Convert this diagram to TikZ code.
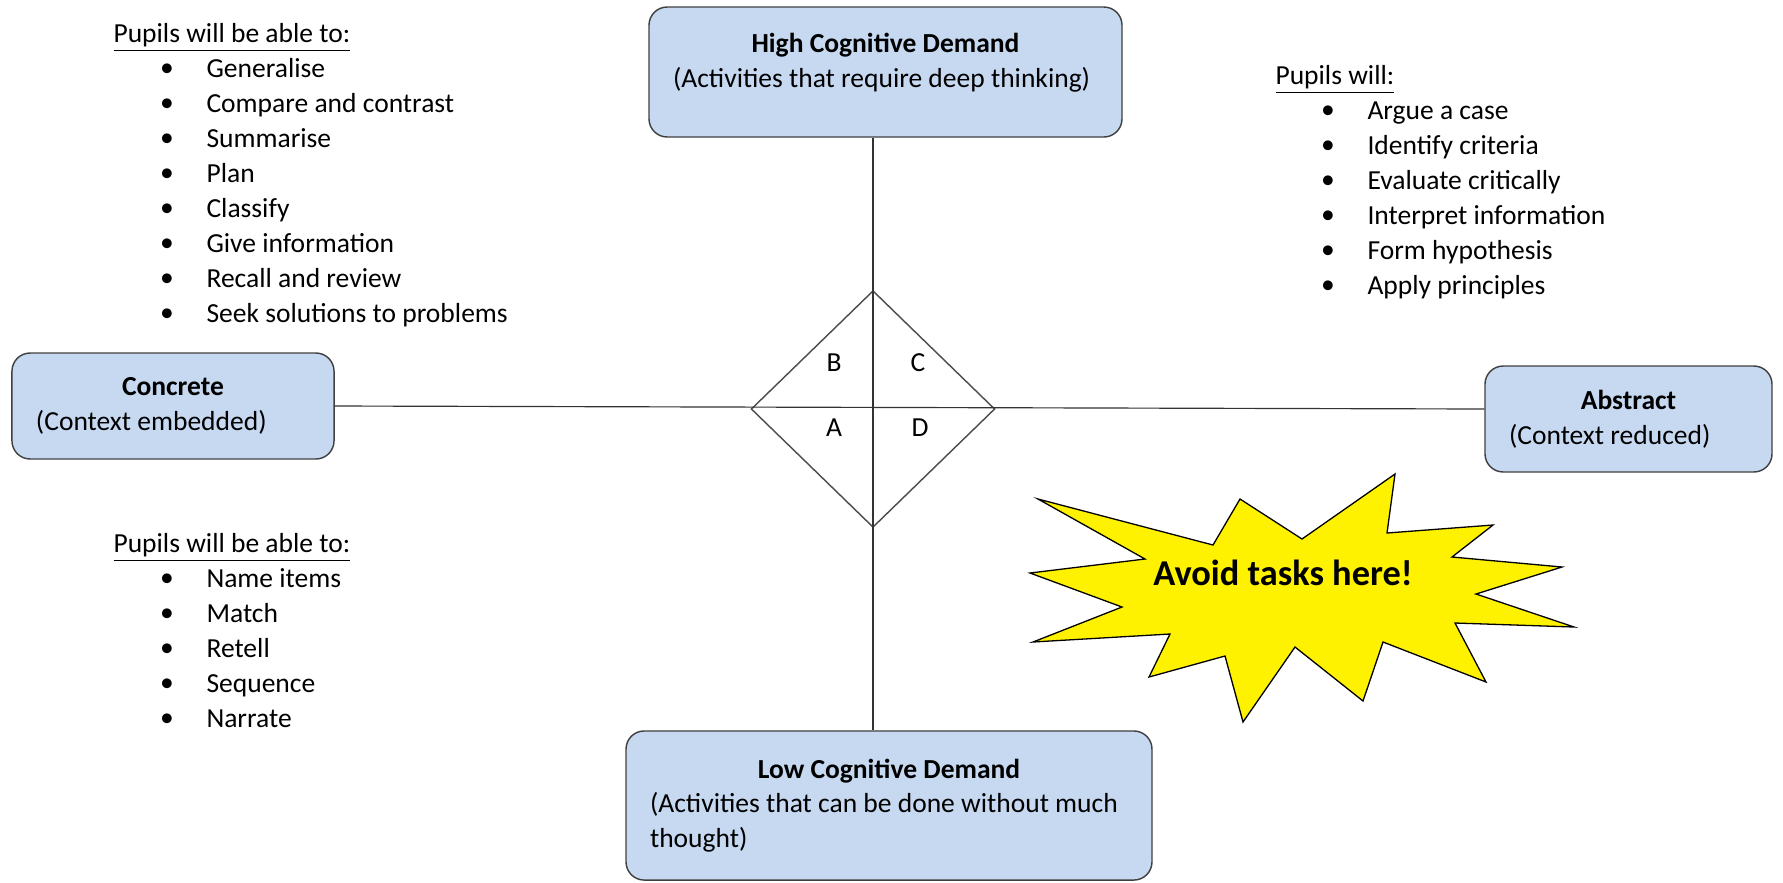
\documentclass[tikz,border=0pt]{standalone}
\usepackage{fontspec}
\setmainfont{Carlito}
\usepackage{tikz}
\usetikzlibrary{shapes.geometric,positioning}
\definecolor{boxblue}{RGB}{198,217,241}

\begin{document}
\begin{tikzpicture}[x=0.385pt, y=-0.385pt, font=\fontsize{10.6}{13.4}\selectfont,
  box/.style={draw=black!75, line width=0.55pt, fill=boxblue, rounded corners=7pt, inner sep=0pt, align=left},
  axis/.style={draw=black!80, line width=0.45pt},
  itm/.style={anchor=west, inner sep=0pt, text height=8pt, text depth=2.5pt},
  hdr/.style={anchor=west, inner sep=0pt, text height=8pt, text depth=2.5pt}]
\useasboundingbox (0,0) rectangle (1783,882);
%the four poles
\node[box, minimum width=182.1pt, minimum height=50.05pt, text depth=9pt] (hcd) at (885.5,72)
  {\makebox[163.6pt]{\textbf{High Cognitive Demand}}\\(Activities that require deep thinking)};
\node[box, minimum width=202.5pt, minimum height=57.4pt] (lcd) at (889,805.5)
  {\makebox[184pt]{\textbf{Low Cognitive Demand}}\\(Activities that can be done without much\\thought)};
\node[box, minimum width=124pt, minimum height=40.8pt] (conc) at (173,406)
  {\makebox[105.5pt]{\textbf{Concrete}}\\(Context embedded)};
\node[box, minimum width=110.5pt, minimum height=40.8pt] (abst) at (1628.5,419)
  {\makebox[92pt]{\textbf{Abstract}}\\(Context reduced)};
%quadrants
\node[draw=black!70, line width=0.55pt, diamond, minimum width=93.6pt, minimum height=90.9pt, inner sep=0pt, outer sep=0pt] (quad) at (873,409) {};
\draw[axis] (quad.north |- hcd.south) -- (quad.south |- lcd.north);
\draw[axis] (conc.east) -- (abst.west |- quad.east);
\node (qb) at (834,363) {B};
\node (qc) at (918,363) {C};
\node (qa) at (834,428) {A};
\node (qd) at (920,428) {D};
%top left list
\node[hdr] (tlh) at (113,35) {\underline{Pupils will be able to:}};
\foreach \t [count=\i] in {Generalise, Compare and contrast, Summarise, Plan, Classify, Give information, Recall and review, Seek solutions to problems}
  {\node (tlb\i) at (167,35+35*\i) {\textbullet}; \node[itm] (tl\i) at (206,35+35*\i) {\t};}
%bottom left list
\node[hdr] (blh) at (113,545) {\underline{Pupils will be able to:}};
\foreach \t [count=\i] in {Name items, Match, Retell, Sequence, Narrate}
  {\node (blb\i) at (167,545+35*\i) {\textbullet}; \node[itm] (bl\i) at (206,545+35*\i) {\t};}
%top right list
\node[hdr] (trh) at (1275,77) {\underline{Pupils will:}};
\foreach \t [count=\i] in {Argue a case, Identify criteria, Evaluate critically, Interpret information, Form hypothesis, Apply principles}
  {\node (trb\i) at (1328,77+35*\i) {\textbullet}; \node[itm] (tr\i) at (1367,77+35*\i) {\t};}
%star
\draw[black, line width=0.5pt, fill=yellow] (1038,499) -- (1213,545) -- (1240,499) -- (1302,539) -- (1395,474) -- (1387,533)
  -- (1493,525) -- (1452,557) -- (1562,567) -- (1476,594) -- (1574,627) -- (1455,623) -- (1486,682) -- (1383,642)
  -- (1363,701) -- (1295,647) -- (1243,722) -- (1225,656) -- (1149,677) -- (1170,634) -- (1033,642) -- (1122,607)
  -- (1030,573) -- (1145,559) -- cycle;
\node[font=\bfseries\fontsize{14}{16}\selectfont] (warn) at (1283,573) {Avoid tasks here!};
\end{tikzpicture}
\end{document}
